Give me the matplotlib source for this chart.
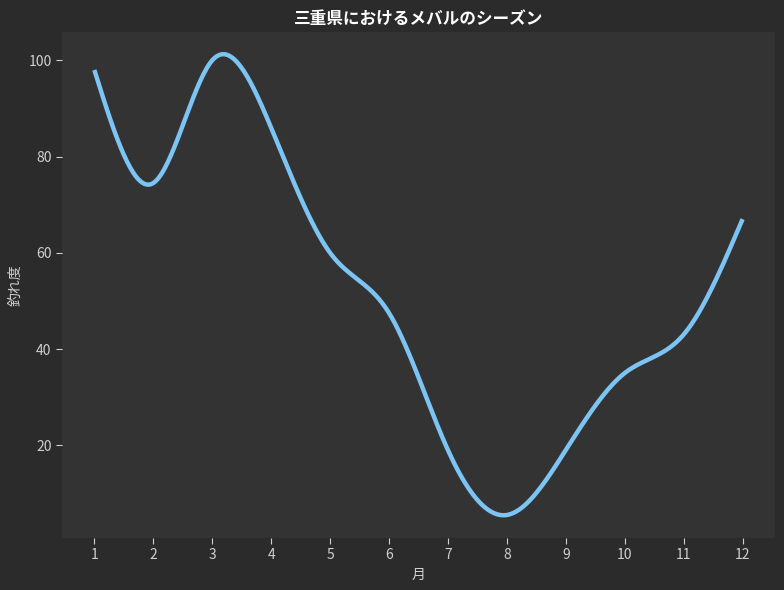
import numpy as np
import matplotlib
matplotlib.use("Agg")
import matplotlib.pyplot as plt

plt.rcParams['font.family'] = ['Noto Sans CJK JP', 'DejaVu Sans']

months = [1, 2, 3, 4, 5, 6, 7, 8, 9, 10, 11, 12]
catch_rate = [98, 74.5, 100, 86, 60, 47.5, 19, 5.5, 19, 35, 43, 67]
title = "三重県におけるメバルのシーズン"
xlabel = "月"
ylabel = "釣れ度"


def cubic_spline(x, y, xs):
    x = np.asarray(x, float)
    y = np.asarray(y, float)
    n = len(x)
    h = np.diff(x)
    A = np.zeros((n, n))
    b = np.zeros(n)
    for i in range(1, n - 1):
        A[i, i - 1] = h[i - 1]
        A[i, i] = 2 * (h[i - 1] + h[i])
        A[i, i + 1] = h[i]
        b[i] = 6 * ((y[i + 1] - y[i]) / h[i] - (y[i] - y[i - 1]) / h[i - 1])
    A[0, 0] = 1
    A[-1, -1] = 1
    M = np.linalg.solve(A, b)
    idx = np.clip(np.searchsorted(x, xs) - 1, 0, n - 2)
    x0, x1 = x[idx], x[idx + 1]
    hh = x1 - x0
    t0 = x1 - xs
    t1 = xs - x0
    return (M[idx] * t0 ** 3 / (6 * hh) + M[idx + 1] * t1 ** 3 / (6 * hh)
            + (y[idx] / hh - M[idx] * hh / 6) * t0
            + (y[idx + 1] / hh - M[idx + 1] * hh / 6) * t1)


xs = np.linspace(min(months), max(months), 400)
ys = cubic_spline(months, catch_rate, xs)

fig = plt.figure(figsize=(7.84, 5.9), dpi=100, facecolor='#2b2b2b')
ax = fig.add_axes([0.079, 0.088, 0.9095, 0.8578])
ax.set_facecolor('#333333')
ax.plot(xs, ys, color='#7cc4f4', linewidth=3.2, solid_capstyle='butt')

for s in ax.spines.values():
    s.set_visible(False)
ax.set_xticks(months)
ax.set_yticks([20, 40, 60, 80, 100])
ax.set_ylim(0.7, 105.9)
ax.tick_params(colors='#d0d0d0', labelsize=10, length=4, width=0.8)
ax.set_xlabel(xlabel, color='#d0d0d0', fontsize=10)
ax.set_ylabel(ylabel, color='#d0d0d0', fontsize=10)
ax.set_title(title, color='white', fontsize=12, fontweight='bold', pad=6)

fig.savefig('out.png', dpi=100, facecolor=fig.get_facecolor())
